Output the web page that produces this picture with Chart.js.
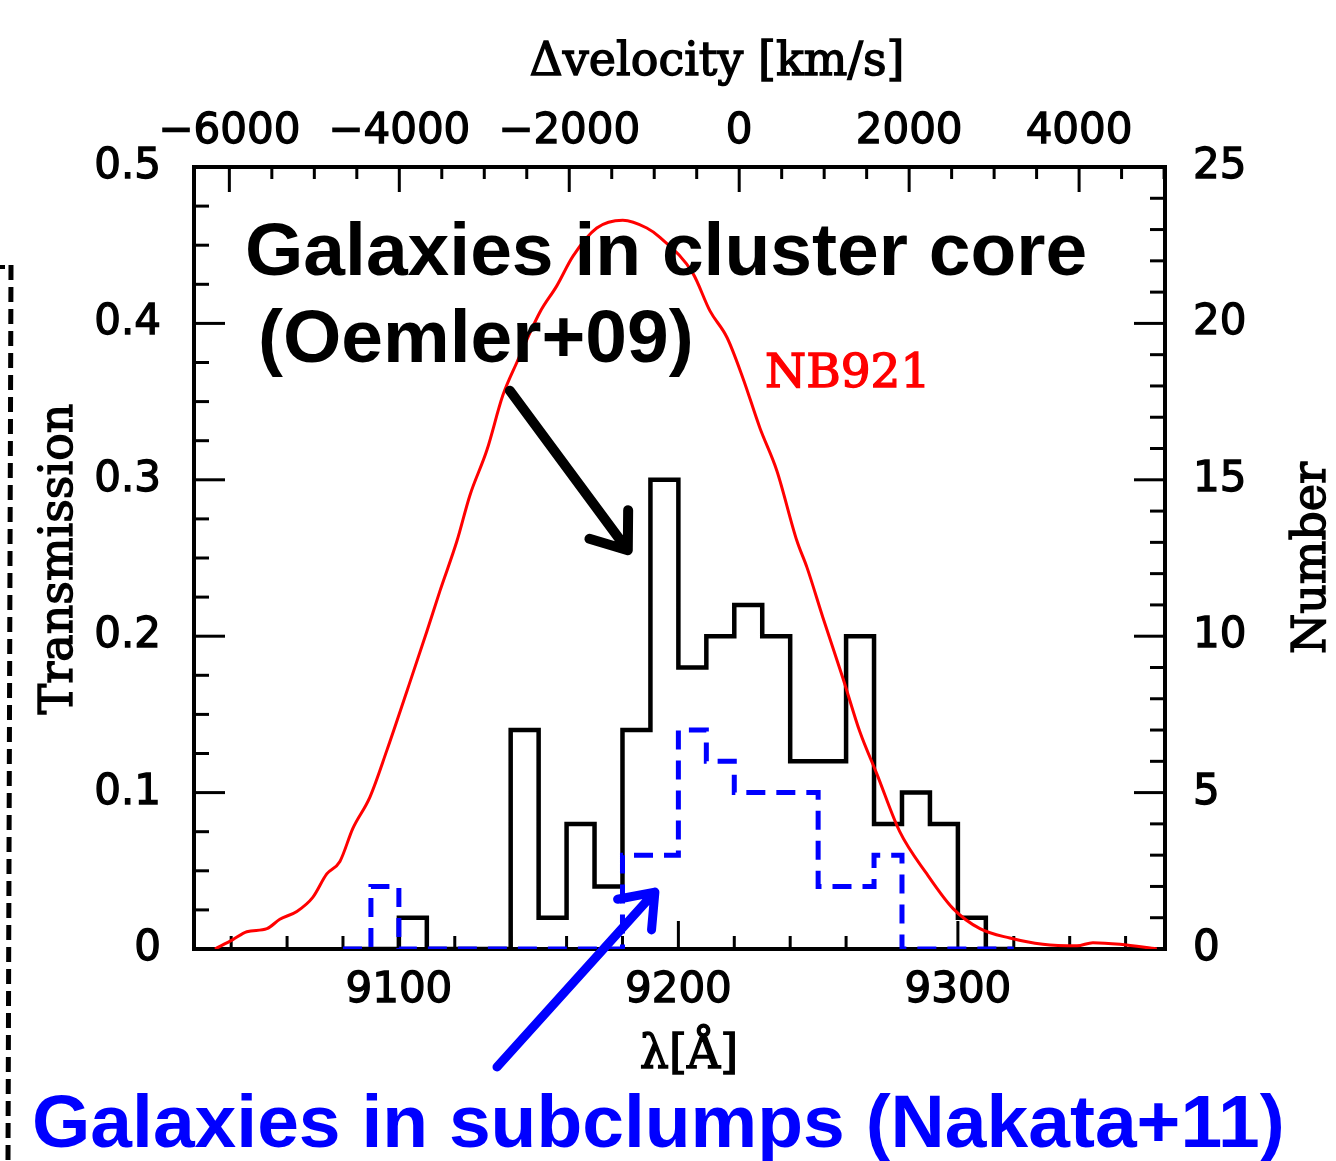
<!DOCTYPE html>
<html>
<head>
<meta charset="utf-8">
<title>NB921 transmission and galaxy redshifts</title>
<script src="https://cdn.jsdelivr.net/npm/chart.js@4.4.1/dist/chart.umd.min.js"></script>
<style>
  html, body { margin: 0; padding: 0; background: #fff; }
  #wrap { width: 1336px; height: 1161px; }
</style>
</head>
<body>
<div id="wrap"><canvas id="chart" width="1336" height="1161"></canvas></div>
<script>
// NB921 filter transmission curve (wavelength in A, transmission)
const filterWave = [9034.2, 9040.6, 9045.6, 9052.8, 9057.4, 9063.5, 9069.2, 9074.2, 9078.9, 9083.5,
  9089.6, 9095.7, 9102.9, 9110.0, 9114.7, 9120.8, 9125.4, 9131.5, 9137.2, 9142.2,
  9150.4, 9156.5, 9162.3, 9170.8, 9180.1, 9188.7, 9193.4, 9205.2, 9211.3, 9217.4,
  9223.1, 9229.2, 9235.2, 9242.4, 9246.0, 9251.7, 9258.9, 9264.9, 9271.0, 9279.2,
  9288.9, 9298.2, 9307.9, 9318.6, 9330.4, 9342.6, 9348.3, 9358.0, 9371.2];
const filterTrans = [0.000, 0.006, 0.011, 0.013, 0.019, 0.024, 0.033, 0.048, 0.056, 0.077,
  0.097, 0.127, 0.165, 0.203, 0.229, 0.261, 0.290, 0.319, 0.354, 0.375,
  0.407, 0.424, 0.443, 0.461, 0.466, 0.461, 0.455, 0.432, 0.408, 0.391,
  0.365, 0.333, 0.306, 0.261, 0.244, 0.212, 0.173, 0.139, 0.112, 0.075,
  0.048, 0.026, 0.013, 0.007, 0.003, 0.002, 0.004, 0.003, 0.000];

// redshift histograms: left edge of each 10 A bin
const binStart = [9080, 9090, 9100, 9110, 9120, 9130, 9140, 9150, 9160, 9170, 9180, 9190,
  9200, 9210, 9220, 9230, 9240, 9250, 9260, 9270, 9280, 9290, 9300, 9310];
const binWidth = 10;
const coreCounts = [0, 0, 1, 0, 0, 0, 7, 1, 4, 2, 7, 15,
  9, 10, 11, 10, 6, 6, 10, 4, 5, 4, 1, 0];
const subclumpCounts = [0, 2, 0, 0, 0, 0, 0, 0, 0, 0, 3, 3,
  7, 6, 5, 5, 5, 2, 2, 3, 0, 0, 0, 0];

// labelled ticks
const waveTicks = [9100, 9200, 9300];
const velTicks = [-6000, -4000, -2000, 0, 2000, 4000];
const transTicks = [0, 0.1, 0.2, 0.3, 0.4, 0.5];
const numTicks = [0, 5, 10, 15, 20, 25];

const sansTicks = { family: '"DejaVu Sans", sans-serif', size: 42 };
const serifFont = '46px "DejaVu Serif", serif';
const boldFont = 'bold 75px "Liberation Sans", Arial, sans-serif';

function histPoints(counts) {
  const pts = binStart.map((x, i) => ({ x: x, y: counts[i] }));
  pts.push({ x: binStart[binStart.length - 1] + binWidth, y: 0 });
  return pts;
}

function fixedTicks(values) {
  return scale => { scale.ticks = values.map(v => ({ value: v })); };
}

function tickStyle(padding, callback) {
  return { font: sansTicks, color: '#000', textStrokeColor: '#000', textStrokeWidth: 1.3,
    padding: padding, maxRotation: 0, autoSkip: false, callback: callback };
}

function drawArrow(ctx, x1, y1, x2, y2, head, color, width) {
  const ang = Math.atan2(y2 - y1, x2 - x1);
  const spread = 37 * Math.PI / 180;
  ctx.save();
  ctx.strokeStyle = color;
  ctx.lineWidth = width;
  ctx.lineCap = 'round';
  ctx.lineJoin = 'round';
  ctx.beginPath();
  ctx.moveTo(x1, y1);
  ctx.lineTo(x2, y2);
  ctx.moveTo(x2 - head * Math.cos(ang - spread), y2 - head * Math.sin(ang - spread));
  ctx.lineTo(x2, y2);
  ctx.lineTo(x2 - head * Math.cos(ang + spread), y2 - head * Math.sin(ang + spread));
  ctx.stroke();
  ctx.restore();
}

// heavy = outline width used to thicken the serif labels a little
function drawText(ctx, str, x, y, font, color, align, rot, heavy) {
  ctx.save();
  ctx.font = font;
  ctx.fillStyle = color;
  ctx.strokeStyle = color;
  ctx.textAlign = align || 'left';
  ctx.textBaseline = 'alphabetic';
  ctx.translate(x, y);
  if (rot) ctx.rotate(rot);
  ctx.fillText(str, 0, 0);
  if (heavy) {
    ctx.lineWidth = heavy;
    ctx.strokeText(str, 0, 0);
  }
  ctx.restore();
}

// box frame with inward major/minor ticks on all four sides
const frameTicks = {
  id: 'frameTicks',
  beforeDatasetsDraw(chart) {
    const { ctx, chartArea: a, scales } = chart;
    ctx.save();
    ctx.strokeStyle = '#000';
    ctx.lineWidth = 4;
    ctx.lineJoin = 'miter';
    ctx.strokeRect(a.left, a.top, a.right - a.left, a.bottom - a.top);
    ctx.lineWidth = 3;
    const mark = (x1, y1, x2, y2) => {
      ctx.beginPath(); ctx.moveTo(x1, y1); ctx.lineTo(x2, y2); ctx.stroke();
    };
    for (let v = 9040; v <= 9360; v += 20) {
      const px = scales.x.getPixelForValue(v);
      mark(px, a.bottom, px, a.bottom - (v % 100 === 0 ? 28 : 13));
    }
    for (let v = -6000; v <= 5000; v += 500) {
      const px = scales.xTop.getPixelForValue(v);
      if (px <= a.left || px >= a.right) continue;
      mark(px, a.top, px, a.top + (v % 2000 === 0 ? 25 : 12));
    }
    for (let i = 1; i < 20; i++) {
      const py = scales.y.getPixelForValue(i * 0.025);
      mark(a.left, py, a.left + (i % 4 === 0 ? 31 : 15), py);
    }
    for (let n = 1; n < 25; n++) {
      const py = scales.yRight.getPixelForValue(n);
      mark(a.right, py, a.right - (n % 5 === 0 ? 31 : 15), py);
    }
    ctx.restore();
  },
  afterDraw(chart) {
    const { ctx, scales } = chart;
    const sx = scales.x, sy = scales.y;

    // axis titles
    drawText(ctx, '\u0394velocity [km/s]', 717, 75, serifFont, '#000', 'center', 0, 1.4);
    drawText(ctx, '\u03bb[\u00c5]', 689, 1068, serifFont, '#000', 'center', 0, 1.4);
    drawText(ctx, 'Transmission', 72, 559, serifFont, '#000', 'center', -Math.PI / 2, 1.4);
    drawText(ctx, 'Number', 1325, 558, serifFont, '#000', 'center', -Math.PI / 2, 1.4);

    // filter name and sample labels
    drawText(ctx, 'NB921', 765, 387, '47px "DejaVu Serif", serif', '#ff0000', 'left', 0, 1.4);
    drawText(ctx, 'Galaxies in cluster core', 245, 275, boldFont, '#000', 'left');
    drawText(ctx, '(Oemler+09)', 258, 362, boldFont, '#000', 'left');
    drawText(ctx, 'Galaxies in subclumps (Nakata+11)', 32, 1147, boldFont, '#0000ff', 'left');

    // arrows pointing at the two histograms
    drawArrow(ctx, sx.getPixelForValue(9139.7), sy.getPixelForValue(0.357),
      sx.getPixelForValue(9181.9), sy.getPixelForValue(0.255), 40, '#000', 10);
    drawArrow(ctx, sx.getPixelForValue(9135.1), sy.getPixelForValue(-0.0754),
      sx.getPixelForValue(9191.6), sy.getPixelForValue(0.0364), 38, '#0000ff', 9);

    // dashed panel edge on the left
    ctx.save();
    ctx.strokeStyle = '#000';
    ctx.lineWidth = 5;
    ctx.setLineDash([15, 7]);
    ctx.beginPath();
    ctx.moveTo(11, 265);
    ctx.lineTo(8, 1161);
    ctx.stroke();
    ctx.setLineDash([]);
    ctx.lineWidth = 4;
    ctx.beginPath();
    ctx.moveTo(0, 267);
    ctx.lineTo(5, 267);
    ctx.stroke();
    ctx.restore();
  }
};

new Chart(document.getElementById('chart'), {
  type: 'line',
  data: {
    datasets: [
      {
        label: 'Nakata+11',
        data: histPoints(subclumpCounts),
        yAxisID: 'yRight',
        stepped: true,
        borderColor: '#0000ff',
        borderWidth: 5,
        borderDash: [19, 11],
        pointRadius: 0,
        order: 0
      },
      {
        label: 'NB921',
        data: filterWave.map((w, i) => ({ x: w, y: filterTrans[i] })),
        yAxisID: 'y',
        borderColor: '#ff0000',
        borderWidth: 3,
        cubicInterpolationMode: 'monotone',
        pointRadius: 0,
        order: 1
      },
      {
        label: 'Oemler+09',
        data: histPoints(coreCounts),
        yAxisID: 'yRight',
        stepped: true,
        borderColor: '#000',
        borderWidth: 4.5,
        pointRadius: 0,
        order: 2
      }
    ]
  },
  options: {
    responsive: false,
    animation: false,
    events: [],
    layout: { padding: 0 },
    plugins: { legend: { display: false }, tooltip: { enabled: false } },
    scales: {
      x: {
        type: 'linear', position: 'bottom', min: 9026.7, max: 9374.1,
        afterBuildTicks: fixedTicks(waveTicks),
        afterFit: s => { s.height = 212; },
        grid: { display: false, drawTicks: false },
        border: { display: false },
        ticks: tickStyle(17, v => String(v))
      },
      xTop: {
        type: 'linear', position: 'top', min: -6416, max: 5011,
        afterBuildTicks: fixedTicks(velTicks),
        afterFit: s => { s.height = 167; },
        grid: { display: false, drawTicks: false },
        border: { display: false },
        ticks: tickStyle(10, v => (v < 0 ? '\u2212' + Math.abs(v) : String(v)))
      },
      y: {
        type: 'linear', position: 'left', min: 0, max: 0.5,
        afterBuildTicks: fixedTicks(transTicks),
        afterFit: s => { s.width = 194; },
        grid: { display: false, drawTicks: false },
        border: { display: false },
        ticks: tickStyle(33, v => (v === 0 ? '0' : v.toFixed(1)))
      },
      yRight: {
        type: 'linear', position: 'right', min: 0, max: 25,
        afterBuildTicks: fixedTicks(numTicks),
        afterFit: s => { s.width = 171; },
        grid: { display: false, drawTicks: false },
        border: { display: false },
        ticks: tickStyle(28, v => String(v))
      }
    }
  },
  plugins: [frameTicks]
});
</script>
</body>
</html>
